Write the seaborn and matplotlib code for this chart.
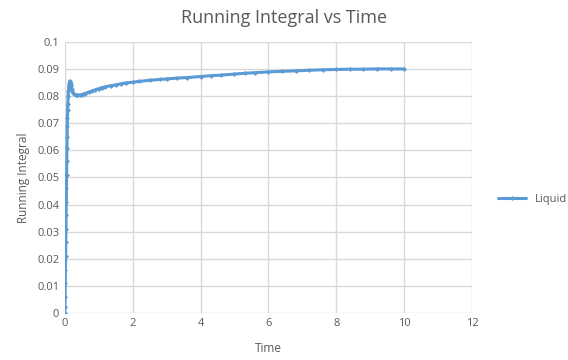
import pandas as pd
import seaborn as sns
import matplotlib.pyplot as plt

time = [0.0, 0.005, 0.01, 0.015, 0.02, 0.025, 0.03, 0.035, 0.04, 0.045, 0.05,
        0.055, 0.06, 0.065, 0.07, 0.075, 0.08, 0.085, 0.09, 0.1, 0.11, 0.12,
        0.13, 0.14, 0.15, 0.16, 0.17, 0.18, 0.2, 0.22, 0.25, 0.28, 0.32, 0.36,
        0.4, 0.45, 0.5, 0.55, 0.6, 0.7, 0.8, 0.9, 1.0, 1.1, 1.2, 1.35, 1.5,
        1.65, 1.8, 2.0, 2.2, 2.5, 2.8, 3.0, 3.3, 3.6, 4.0, 4.3, 4.6, 5.0,
        5.3, 5.6, 6.0, 6.4, 6.8, 7.2, 7.6, 8.0, 8.4, 8.8, 9.2, 9.6, 10.0]
running_integral = [0.0, 0.002, 0.006, 0.011, 0.016, 0.021, 0.026, 0.031, 0.036,
                    0.041, 0.046, 0.051, 0.056, 0.061, 0.065, 0.069, 0.072,
                    0.075, 0.077, 0.080, 0.082, 0.0835, 0.0847, 0.0853, 0.0856,
                    0.0853, 0.0846, 0.0838, 0.0826, 0.0818, 0.0811, 0.0807,
                    0.0804, 0.0803, 0.0803, 0.0804, 0.0806, 0.0808, 0.0810,
                    0.0815, 0.0819, 0.0824, 0.0828, 0.0832, 0.0835, 0.0839,
                    0.0842, 0.0846, 0.0849, 0.0852, 0.0855, 0.0859, 0.0862,
                    0.0864, 0.0867, 0.0869, 0.0873, 0.0876, 0.0878, 0.0882,
                    0.0885, 0.0887, 0.0890, 0.0892, 0.0894, 0.0896, 0.0898,
                    0.0899, 0.0900, 0.0900, 0.0901, 0.0901, 0.0901]

df = pd.DataFrame({"Time": time, "Running Integral": running_integral, "series": "Liquid"})

sns.set_theme(style="whitegrid")
plt.rcParams["font.family"] = ["Open Sans", "DejaVu Sans"]

fig = plt.figure(figsize=(5.68, 3.6), dpi=100)
ax = fig.add_axes([0.114, 0.131, 0.717, 0.752])

blue = "#5B9BD5"
gray = "#595959"
sns.lineplot(data=df, x="Time", y="Running Integral", hue="series", palette=[blue],
             marker="D", markersize=2.5, markeredgewidth=0, linewidth=2.2, ax=ax)

ax.set_xlim(0, 12)
ax.set_ylim(0, 0.1)
ax.set_xticks(range(0, 13, 2))
yt = [i / 100 for i in range(11)]
ax.set_yticks(yt)
ax.set_yticklabels(["0"] + [f"{v:g}" for v in yt[1:]])
ax.tick_params(colors=gray, labelsize=8, length=0, pad=4)
ax.grid(color="#D9D9D9", linewidth=1)
for s in ax.spines.values():
    s.set_visible(False)

ax.set_xlabel("Time", color=gray, fontsize=8.5, labelpad=9)
ax.set_ylabel("Running Integral", color=gray, fontsize=8.5, labelpad=5)
fig.suptitle("Running Integral vs Time", color=gray, fontsize=13, y=0.975)

leg = ax.legend(loc="center left", bbox_to_anchor=(1.04, 0.42), frameon=False,
                fontsize=8, handlelength=2.5)
for t in leg.get_texts():
    t.set_color(gray)

fig.savefig("out.png", dpi=100)
